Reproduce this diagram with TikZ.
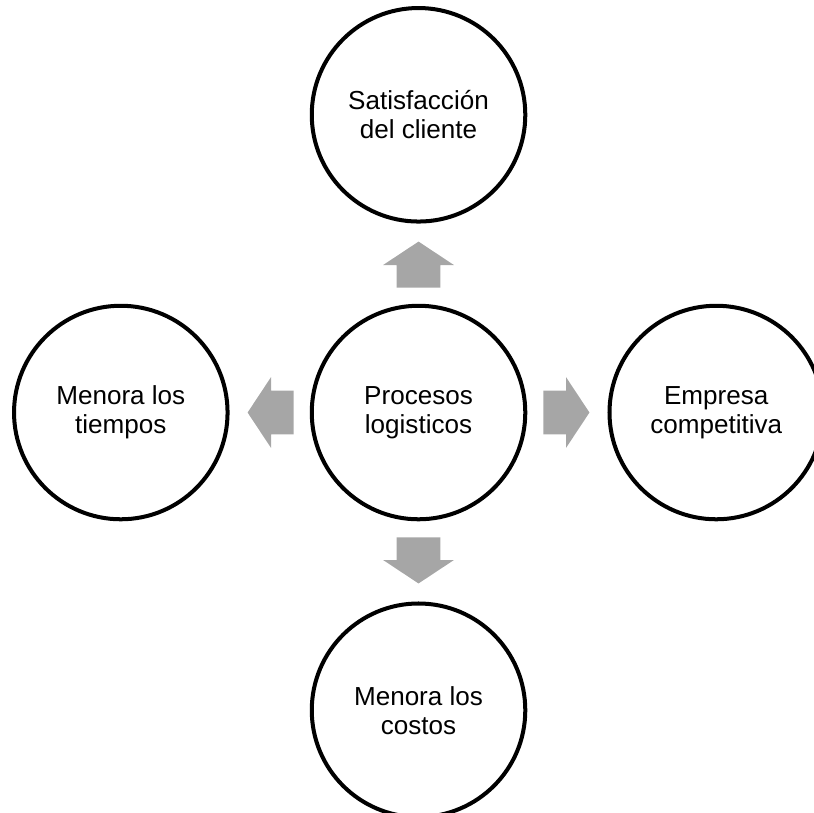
\documentclass[tikz,border=0pt]{standalone}
\usepackage{fontspec}
\setmainfont{Liberation Sans}
\usetikzlibrary{positioning, shapes.arrows, calc}
\definecolor{grisflecha}{RGB}{166,166,166}

\tikzset{
  circulo/.style={circle, draw=black, line width=0.1cm, minimum size=5.325cm, inner sep=0pt, align=center, font=\fontsize{18.5}{20.5}\selectfont},
  flecha/.style={single arrow, fill=grisflecha, draw=none, minimum height=1.15cm, inner xsep=0pt, inner ysep=0.5375cm, single arrow head extend=0.3375cm, single arrow tip angle=113, single arrow head indent=0pt, outer sep=0pt, anchor=tail}
}

\begin{document}
\begin{tikzpicture}
        \useasboundingbox (-10.4375,-9.9625) rectangle (9.8625,10.2875);

        % Circulo central
        \node[circulo] (proc) at (0,0) {Procesos\\logisticos};

        % Circulos alrededor
        \node[circulo, above=2cm of proc] (sat) {Satisfacción\\del cliente};
        \node[circulo, left=2cm of proc] (tiempos) {Menora los\\tiempos};
        \node[circulo, right=2cm of proc] (empresa) {Empresa\\competitiva};
        \node[circulo, below=2cm of proc] (costos) {Menora los\\costos};

        % Flechas (todas grises)
        \node[flecha, rotate=90] (fArriba) at ([yshift=0.4cm]proc.north) {};
        \node[flecha, rotate=180] (fIzq) at ([xshift=-0.4cm]proc.west) {};
        \node[flecha] (fDer) at ([xshift=0.4cm]proc.east) {};
        \node[flecha, rotate=270] (fAbajo) at ([yshift=-0.4cm]proc.south) {};
\end{tikzpicture}
\end{document}
